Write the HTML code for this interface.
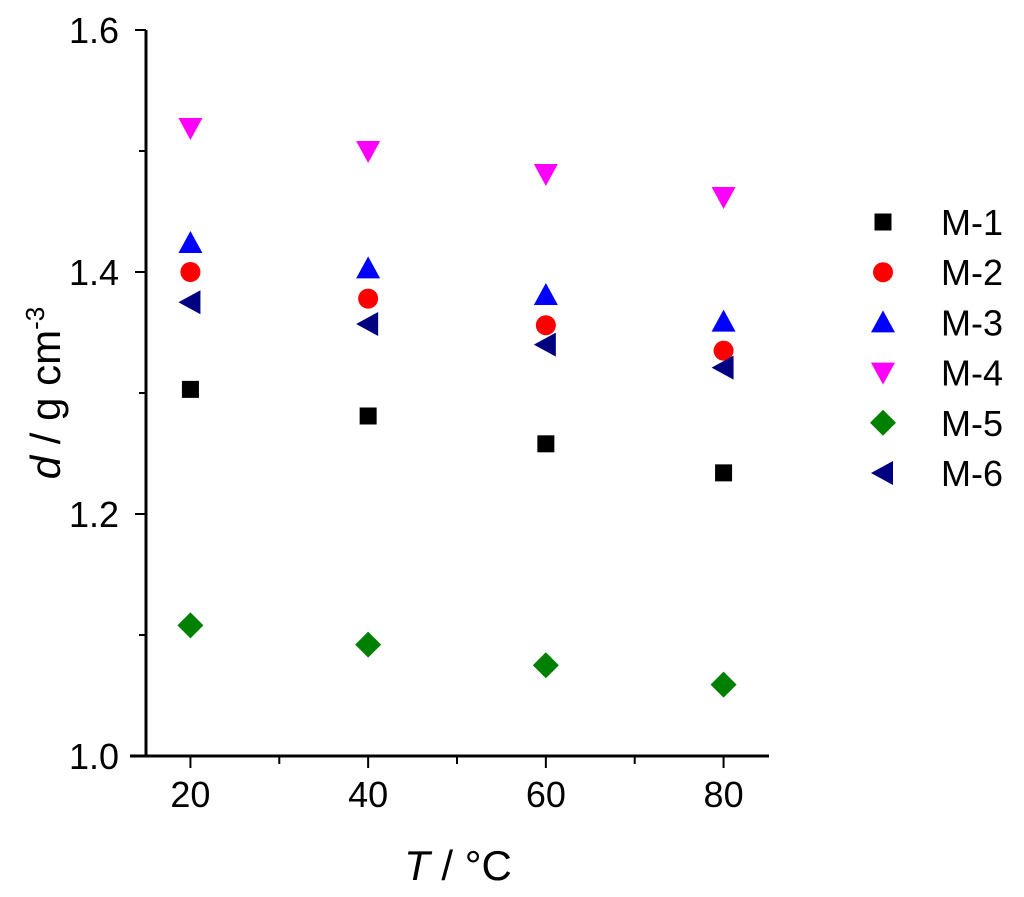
<!DOCTYPE html>
<html><head><meta charset="utf-8"><style>
body{margin:0;background:#fff;}
svg text{font-family:"Liberation Sans",Arial,sans-serif;}
</style></head><body>
<svg id="chart" width="1024" height="892" viewBox="0 0 1024 892" xmlns="http://www.w3.org/2000/svg"></svg>
<script>
const temps=[20,40,60,80];
const seriesNames=["M-1","M-2","M-3","M-4","M-5","M-6"];
const m1=[1.303,1.281,1.258,1.234];
const m2=[1.400,1.378,1.356,1.335];
const m3=[1.424,1.403,1.381,1.359];
const m4=[1.519,1.500,1.481,1.462];
const m5=[1.108,1.092,1.075,1.059];
const m6=[1.375,1.357,1.340,1.321];
const yTicks=["1.0","1.2","1.4","1.6"];
const xTicks=["20","40","60","80"];
const allSeries=[m1,m2,m3,m4,m5,m6];
const colors=["#000","#ff0000","#0000ff","#ff00ff","#008000","#000080"];
const shapes=["square","circle","up","down","diamond","left"];
const NS="http://www.w3.org/2000/svg";
const svg=document.getElementById('chart');
const X=v=>146+(v-15)*(622/70);
const Y=v=>756-(v-1.0)*1210;
function mk(t,a,p){const e=document.createElementNS(NS,t);for(const k in a)e.setAttribute(k,a[k]);(p||svg).appendChild(e);return e;}
let ax=mk('line',{x1:146,y1:30,x2:146,y2:757,stroke:'#000','stroke-width':3});


ax=mk('line',{x1:130,y1:756,x2:769,y2:756,stroke:'#000','stroke-width':3});


for(let v=1.0;v<=1.6001;v+=0.1){const maj=Math.round(v*10)%2===0;const t=mk('line',{x1:146-(maj?11:7),x2:146,y1:Y(v),y2:Y(v),stroke:'#000','stroke-width':2});

}
yTicks.forEach(s=>{const t=mk('text',{x:119,y:Y(+s)+13,'font-size':36,'text-anchor':'end'});t.textContent=s;

});
for(let v=20;v<=80;v+=10){const maj=v%20===0;const t=mk('line',{x1:X(v),x2:X(v),y1:756,y2:756+(maj?12:8),stroke:'#000','stroke-width':2});

}
xTicks.forEach(s=>{const t=mk('text',{x:X(+s),y:807,'font-size':36,'text-anchor':'middle'});t.textContent=s;

});
let tt=mk('text',{x:458,y:880,'font-size':42,'text-anchor':'middle'});
tt.innerHTML='<tspan font-style="italic">T</tspan> / °C';


tt=mk('text',{transform:'translate(60,393) rotate(-90)','font-size':42,'text-anchor':'middle'});
tt.innerHTML='<tspan font-style="italic">d</tspan> / g cm<tspan font-size="26" dy="-16">-3</tspan>';


function marker(shape,x,y,c){
  let e;
  if(shape==='square')e=mk('rect',{x:x-8.5,y:y-8.5,width:17,height:17,fill:c});
  else if(shape==='circle')e=mk('circle',{cx:x,cy:y,r:10,fill:c});
  else if(shape==='up')e=mk('polygon',{points:`${x-12},${y+10} ${x+12},${y+10} ${x},${y-12}`,fill:c});
  else if(shape==='down')e=mk('polygon',{points:`${x-12},${y-10} ${x+12},${y-10} ${x},${y+12}`,fill:c});
  else if(shape==='diamond')e=mk('polygon',{points:`${x},${y-13} ${x+13},${y} ${x},${y+13} ${x-13},${y}`,fill:c});
  else e=mk('polygon',{points:`${x+10},${y-12} ${x+10},${y+12} ${x-12},${y}`,fill:c});
  return e;
}
allSeries.forEach((ser,i)=>{ser.forEach((v,j)=>{const m=marker(shapes[i],X(temps[j]),Y(v),colors[i]);

});
  const ly=222+i*50.2;
  const lm=marker(shapes[i],883,ly,colors[i]);
  
  
  const lt=mk('text',{x:941,y:ly+13,'font-size':36});lt.textContent=seriesNames[i];
  
  
});
</script>
</body></html>
